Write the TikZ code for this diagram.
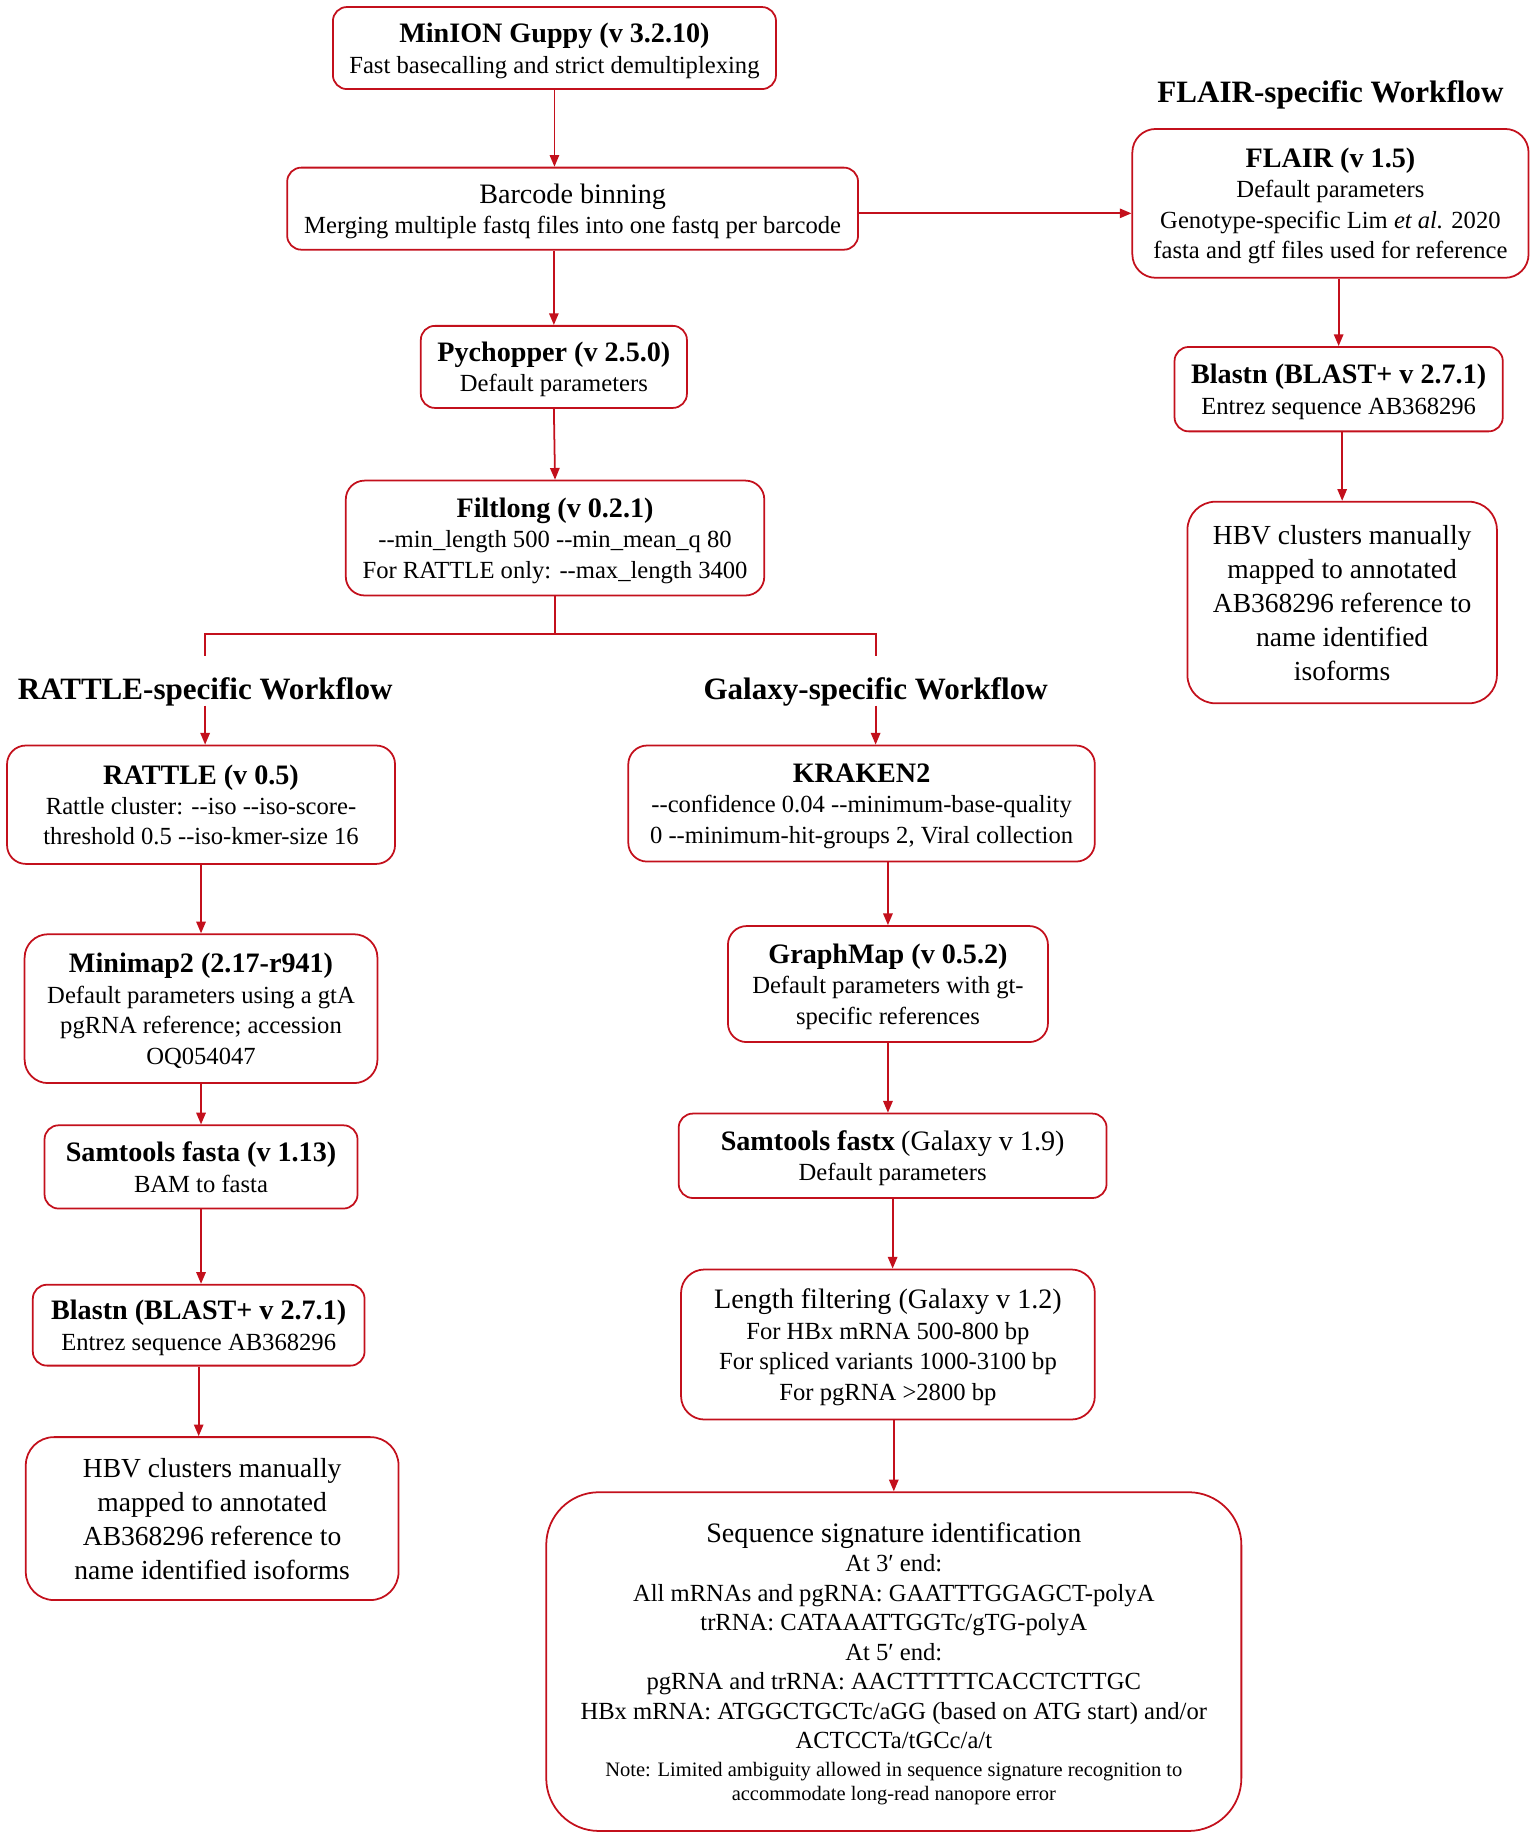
\documentclass[tikz,border=0pt]{standalone}
\usepackage{fontspec}
\setmainfont{Liberation Serif}
\usetikzlibrary{arrows.meta,calc}
\definecolor{wfred}{RGB}{195,16,28}
\newcommand{\wftitle}[1]{{\fontsize{24}{26}\selectfont\bfseries #1}}
\newcommand{\wfbig}[1]{{\fontsize{24}{26}\selectfont #1}}
\begin{document}
\begin{tikzpicture}[x=1pt,y=-1pt,
  box/.style={draw=wfred, line width=1.5pt, rounded corners=12pt, align=center, inner sep=0pt, text depth=-1pt, font=\fontsize{21}{26}\selectfont},
  hbv/.style={box, rounded corners=24pt, font=\fontsize{23.5}{29}\selectfont},
  arr/.style={draw=wfred, line width=1.5pt, -{Triangle[length=10pt,width=8pt]}},
  ln/.style={draw=wfred, line width=1.5pt},
  head/.style={font=\fontsize{26.5}{30}\selectfont\bfseries, inner sep=0pt}]
\useasboundingbox (0,0) rectangle (1310,1568);

% main trunk
\node[box, minimum width=378pt, minimum height=70pt, text depth=-5pt] (minion) at (473,41)
  {\wftitle{MinION Guppy (v 3.2.10)}\\Fast basecalling and strict demultiplexing};
\node[box, minimum width=487pt, minimum height=70pt, text depth=-3pt] (barcode) at (488.5,178)
  {\wfbig{Barcode binning}\\Merging multiple fastq files into one fastq per barcode};
\node[box, minimum width=227pt, minimum height=70pt] (pych) at (472.5,313)
  {\wftitle{Pychopper (v 2.5.0)}\\Default parameters};
\node[box, minimum width=357pt, minimum height=98pt, rounded corners=16pt] (filt) at (473.5,459)
  {\wftitle{Filtlong (v 0.2.1)}\\-{}-min\_length 500 -{}-min\_mean\_q 80\\For RATTLE only: -{}-max\_length 3400};

% headings
\node[head] (rh) at (175,590) {RATTLE-specific Workflow};
\node[head] (gh) at (747,590) {Galaxy-specific Workflow};
\node[head] (fh) at (1135,81) {FLAIR-specific Workflow};

% RATTLE column
\node[box, minimum width=331pt, minimum height=101pt, rounded corners=16pt] (rattle) at (171.5,686.5)
  {\wftitle{RATTLE (v 0.5)}\\Rattle cluster: -{}-iso -{}-iso-score-\\threshold 0.5 -{}-iso-kmer-size 16};
\node[box, minimum width=301pt, minimum height=127pt, rounded corners=20pt, text depth=-3pt] (minimap) at (171.5,860.5)
  {\wftitle{Minimap2 (2.17-r941)}\\Default parameters using a gtA\\pgRNA reference; accession\\OQ054047};
\node[box, minimum width=267pt, minimum height=71pt] (samfa) at (171.5,995.5)
  {\wftitle{Samtools fasta (v 1.13)}\\BAM to fasta};
\node[box, minimum width=283pt, minimum height=69pt] (blastl) at (169.5,1130.5)
  {\wftitle{Blastn (BLAST+ v 2.7.1)}\\Entrez sequence AB368296};
\node[hbv, minimum width=318pt, minimum height=139pt, text depth=-2pt] (hbvl) at (181,1295.5)
  {HBV clusters manually\\mapped to annotated\\AB368296 reference to\\name identified isoforms};

% Galaxy column
\node[box, minimum width=398pt, minimum height=99pt, rounded corners=16pt] (kraken) at (735,685.5)
  {\wftitle{KRAKEN2}\\-{}-confidence 0.04 -{}-minimum-base-quality\\0 -{}-minimum-hit-groups 2, Viral collection};
\node[box, minimum width=273pt, minimum height=99pt, rounded corners=16pt, text depth=-2pt] (graph) at (757.5,839.5)
  {\wftitle{GraphMap (v 0.5.2)}\\Default parameters with gt-\\specific references};
\node[box, minimum width=365pt, minimum height=72pt, text depth=-3pt] (samfx) at (761.5,986)
  {\wftitle{Samtools fastx} \wfbig{(Galaxy v 1.9)}\\Default parameters};
\node[box, minimum width=353pt, minimum height=128pt, rounded corners=20pt] (lenf) at (757.5,1147)
  {\wfbig{Length filtering (Galaxy v 1.2)}\\For HBx mRNA 500-800 bp\\For spliced variants 1000-3100 bp\\For pgRNA >2800 bp};
\node[box, minimum width=593pt, minimum height=289pt, rounded corners=45pt, text depth=-11pt, font=\fontsize{21}{25.2}\selectfont] (seq) at (762.5,1417.5)
  {{\fontsize{24}{25.2}\selectfont Sequence signature identification}\\At 3′ end:\\All mRNAs and pgRNA: GAATTTGGAGCT-polyA\\trRNA: CATAAATTGGTc/gTG-polyA\\At 5′ end:\\pgRNA and trRNA: AACTTTTTCACCTCTTGC\\HBx mRNA: ATGGCTGCTc/aGG (based on ATG start) and/or\\ACTCCTa/tGCc/a/t\\[-2pt]
  {\fontsize{17.5}{21}\selectfont Note: Limited ambiguity allowed in sequence signature recognition to}\\[-4pt]
  {\fontsize{17.5}{21}\selectfont accommodate long-read nanopore error}};

% FLAIR column
\node[box, minimum width=338pt, minimum height=127pt, rounded corners=20pt, text depth=-4pt] (flair) at (1135,173.5)
  {\wftitle{FLAIR (v 1.5)}\\Default parameters\\Genotype-specific Lim \textit{et al.} 2020\\fasta and gtf files used for reference};
\node[box, minimum width=280pt, minimum height=72pt] (blastr) at (1142,332)
  {\wftitle{Blastn (BLAST+ v 2.7.1)}\\Entrez sequence AB368296};
\node[hbv, minimum width=264pt, minimum height=172pt, text depth=-2pt] (hbvr) at (1145,514)
  {HBV clusters manually\\mapped to annotated\\AB368296 reference to\\name identified\\isoforms};

% connectors: trunk
\draw[arr] (minion.south) -- (minion.south |- barcode.north);
\draw[arr] (pych.north |- barcode.south) -- (pych.north);
\draw[arr] (pych.south) -- (filt.north);
\coordinate (bcout) at ($(barcode.east)+(0,4)$);
\draw[arr] (bcout) -- (flair.west |- bcout);

% branch
\coordinate (junc) at ($(filt.south)+(0,32)$);
\coordinate (jl) at (rh.center |- junc);
\coordinate (jr) at (gh.center |- junc);
\draw[ln] (filt.south) -- (junc);
\draw[ln, line cap=rect] (jl) -- (jr);
\draw[ln] (jl) -- ($(rh.center)+(0,-30)$);
\draw[ln] (jr) -- ($(gh.center)+(0,-30)$);
\draw[arr] ($(rh.center)+(0,12)$) -- (rh.center |- rattle.north);
\draw[arr] ($(gh.center)+(0,12)$) -- (gh.center |- kraken.north);

% RATTLE arrows
\draw[arr] (rattle.south) -- (rattle.south |- minimap.north);
\draw[arr] (minimap.south) -- (minimap.south |- samfa.north);
\draw[arr] (samfa.south) -- (samfa.south |- blastl.north);
\draw[arr] (blastl.south) -- (blastl.south |- hbvl.north);

% Galaxy arrows
\draw[arr] (graph.north |- kraken.south) -- (graph.north);
\draw[arr] (graph.south) -- (graph.south |- samfx.north);
\draw[arr] (samfx.south) -- (samfx.south |- lenf.north);
\draw[arr] (seq.north |- lenf.south) -- (seq.north);

% FLAIR arrows
\draw[arr] (blastr.north |- flair.south) -- (blastr.north);
\draw[arr] (hbvr.north |- blastr.south) -- (hbvr.north);
\end{tikzpicture}
\end{document}
